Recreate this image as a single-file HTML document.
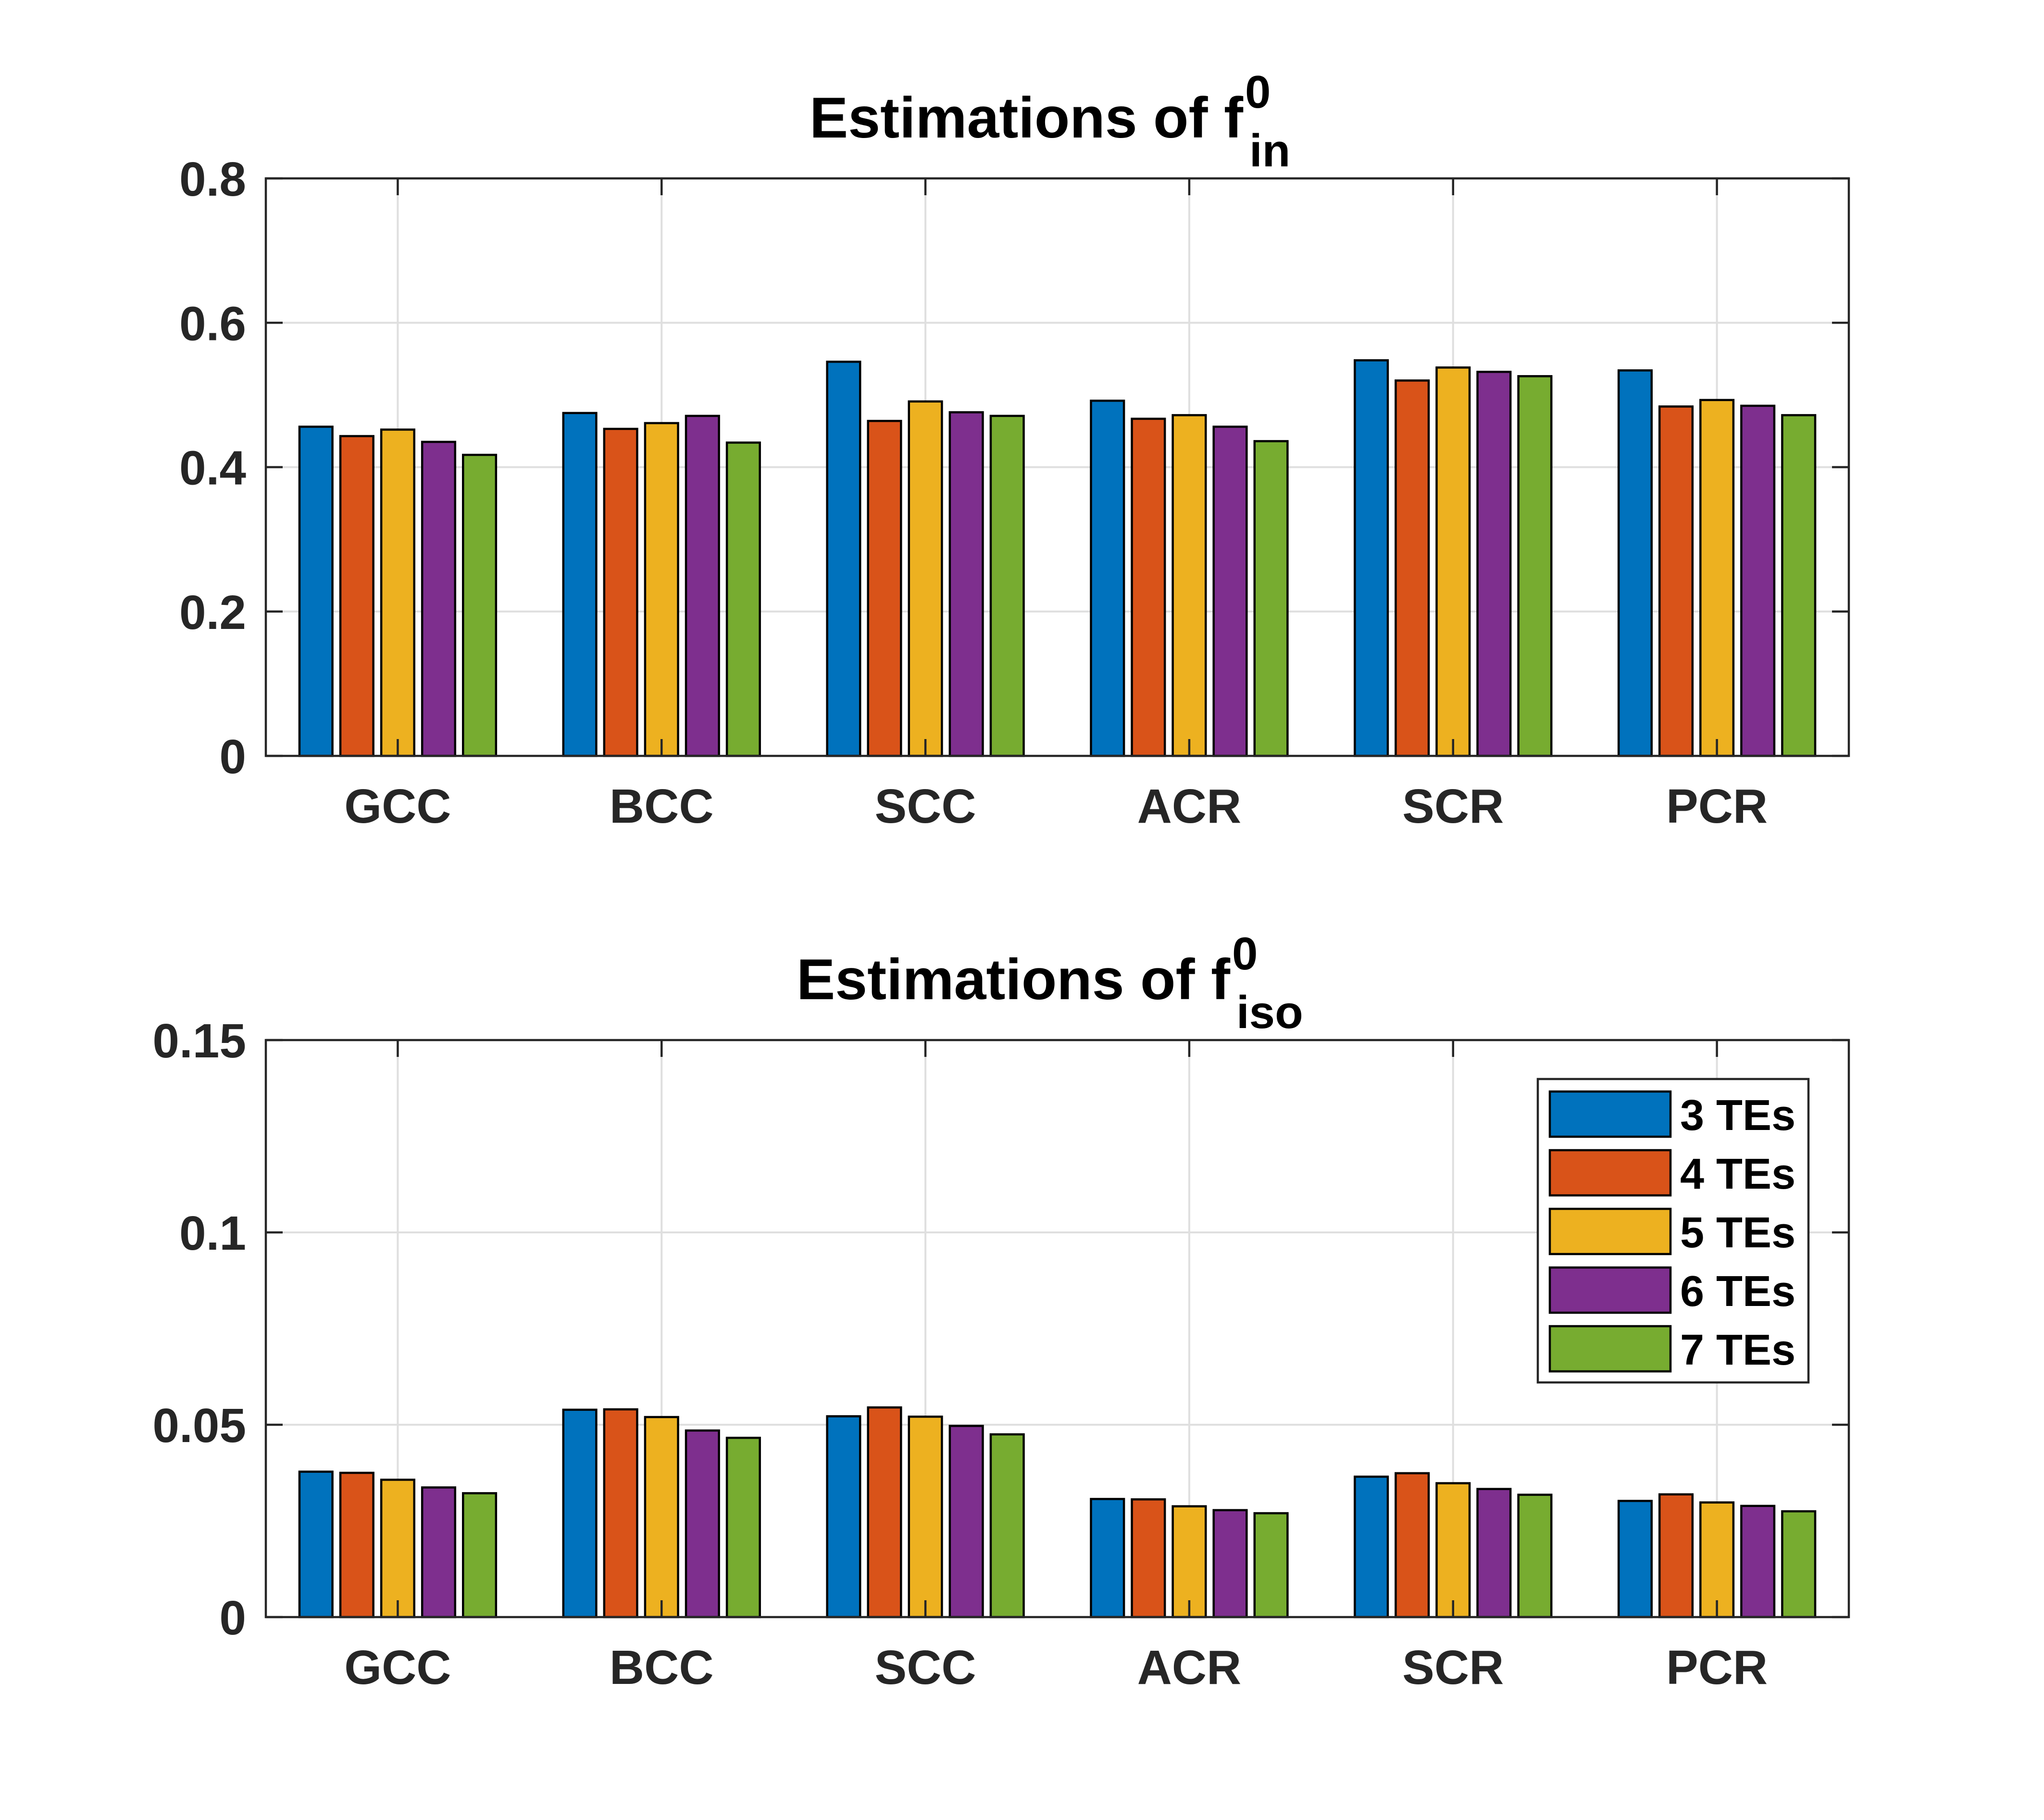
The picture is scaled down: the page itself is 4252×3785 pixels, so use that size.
<!DOCTYPE html>
<html><head><meta charset="utf-8"><style>
html,body{margin:0;padding:0;background:#fff;}
svg text{font-family:"Liberation Sans",Arial,sans-serif;font-weight:bold;}
</style></head><body>
<svg id="chart" width="4252" height="3780" viewBox="0 0 4252 3780" xmlns="http://www.w3.org/2000/svg">
<rect x="0" y="0" width="4252" height="3780" fill="#fff"/>
</svg>
<script>
const categories = ["GCC","BCC","SCC","ACR","SCR","PCR"];
const seriesNames = ["3 TEs","4 TEs","5 TEs","6 TEs","7 TEs"];
const seriesColors = ["#0072BD","#D95319","#EDB120","#7E2F8E","#77AC30"];
// top chart values (f_in), one array per series
const fin3 = [0.456,0.475,0.546,0.492,0.548,0.534];
const fin4 = [0.443,0.453,0.464,0.467,0.520,0.484];
const fin5 = [0.452,0.461,0.491,0.472,0.538,0.493];
const fin6 = [0.435,0.471,0.476,0.456,0.532,0.485];
const fin7 = [0.417,0.434,0.471,0.436,0.526,0.472];
// bottom chart values (f_iso)
const fiso3 = [0.0378,0.0539,0.0522,0.0307,0.0365,0.0302];
const fiso4 = [0.0375,0.0540,0.0545,0.0306,0.0374,0.0319];
const fiso5 = [0.0357,0.0520,0.0521,0.0288,0.0348,0.0298];
const fiso6 = [0.0337,0.0485,0.0497,0.0278,0.0333,0.0289];
const fiso7 = [0.0322,0.0466,0.0475,0.0270,0.0318,0.0275];
const topTicks = [0,0.2,0.4,0.6,0.8];
const topTickLabels = ["0","0.2","0.4","0.6","0.8"];
const botTicks = [0,0.05,0.1,0.15];
const botTickLabels = ["0","0.05","0.1","0.15"];

const NS="http://www.w3.org/2000/svg";
const svg=document.getElementById('chart');
function mk(tag,attrs,parent){const e=document.createElementNS(NS,tag);for(const k in attrs)e.setAttribute(k,attrs[k]);(parent||svg).appendChild(e);return e;}

function drawPanel(p){
  const g=mk('g',{});
  
  
  const L=553,R=3846,T=p.top,B=p.bottom;
  const xs=v=>L+(v-0.5)/6*(R-L);
  const ys=v=>B-(v-p.ymin)/(p.ymax-p.ymin)*(B-T);
  p.ticks.forEach(t=>{ if(t>p.ymin&&t<p.ymax){const l=mk('line',{x1:L,x2:R,y1:ys(t),y2:ys(t),stroke:'#dfdfdf','stroke-width':4},g);
    
    }});
  categories.forEach((c,i)=>{const l=mk('line',{x1:xs(i+1),x2:xs(i+1),y1:T,y2:B,stroke:'#dfdfdf','stroke-width':4},g);
    
    });
  const unit=(R-L)/6, pitch=0.155*unit, bw=0.125*unit;
  p.series.forEach((arr,s)=>{
    arr.forEach((v,i)=>{
      const cx=xs(i+1)+(s-2)*pitch;
      const r=mk('rect',{x:cx-bw/2,y:ys(v),width:bw,height:ys(p.ymin)-ys(v),fill:seriesColors[s],stroke:'#000','stroke-width':4.5},g);
      
      
    });
  });
  const box=mk('rect',{x:L,y:T,width:R-L,height:B-T,fill:'none',stroke:'#262626','stroke-width':4.5},g);
  
  
  p.ticks.forEach((t,k)=>{
    const y=ys(t);
    mk('line',{x1:L,x2:L+35,y1:y,y2:y,stroke:'#262626','stroke-width':4.5},g);
    mk('line',{x1:R-35,x2:R,y1:y,y2:y,stroke:'#262626','stroke-width':4.5},g);
    const tx=mk('text',{x:512,y:y+36,'text-anchor':'end','font-size':100,fill:'#262626'},g);
    tx.textContent=p.tickLabels[k];
    
    
  });
  categories.forEach((c,i)=>{
    const x=xs(i+1);
    mk('line',{x1:x,x2:x,y1:B,y2:B-35,stroke:'#262626','stroke-width':4.5},g);
    mk('line',{x1:x,x2:x,y1:T,y2:T+35,stroke:'#262626','stroke-width':4.5},g);
    const tx=mk('text',{x:x,y:B+139,'text-anchor':'middle','font-size':100,fill:'#262626'},g);
    tx.textContent=c;
    
    
  });
  const tt=mk('text',{x:p.titleX,y:T-85,'font-size':120,fill:'#000'},g);
  
  
  const m=mk('tspan',{textLength:p.mainLen,lengthAdjust:'spacingAndGlyphs'},tt); m.textContent='Estimations of f';
  const sup=mk('tspan',{dy:-62,'font-size':96,dx:4},tt); sup.textContent='0';
  const sub=mk('tspan',{x:p.subX,dy:122,'font-size':96},tt); sub.textContent=p.sub;
}

drawPanel({name:'top-chart',top:371,bottom:1572,ymin:0,ymax:0.8,ticks:topTicks,tickLabels:topTickLabels,
  series:[fin3,fin4,fin5,fin6,fin7],titleX:1684,mainLen:902,subX:2599,sub:'in'});
drawPanel({name:'bottom-chart',top:2163,bottom:3363,ymin:0,ymax:0.15,ticks:botTicks,tickLabels:botTickLabels,
  series:[fiso3,fiso4,fiso5,fiso6,fiso7],titleX:1657,mainLen:902,subX:2572,sub:'iso'});

const lg=mk('g',{});


mk('rect',{x:3199,y:2244,width:563,height:631,fill:'#fff',stroke:'#262626','stroke-width':4.5},lg);
seriesNames.forEach((n,s)=>{
  const y=2270+s*122;
  const sw=mk('rect',{x:3224,y:y,width:251,height:94,fill:seriesColors[s],stroke:'#000','stroke-width':4.5},lg);
  
  
  const t=mk('text',{x:3495,y:y+80,'font-size':90,fill:'#000'},lg);
  t.textContent=n;
  
  
});
</script>
</body></html>
